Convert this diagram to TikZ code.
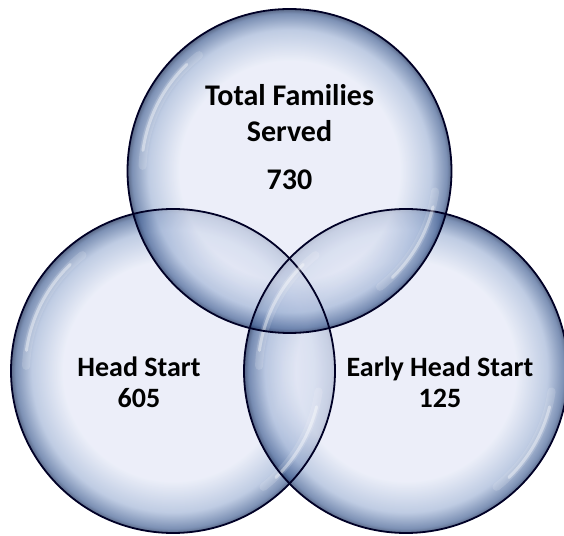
\documentclass[tikz,border=0pt]{standalone}
\usepackage{fontspec}
\setmainfont{Carlito}[BoldFont={Carlito Bold}]
\usetikzlibrary{positioning}
\definecolor{bubin}{HTML}{E4E8F6}
\definecolor{bubmid}{HTML}{A6B8D8}
\definecolor{bubdark}{HTML}{4A6698}
\definecolor{bubrim}{HTML}{1A2E58}
\pgfdeclareradialshading{bubble}{\pgfpoint{0bp}{0bp}}{color(0bp)=(bubin); color(17bp)=(bubin); color(21.8bp)=(bubmid); color(24.3bp)=(bubdark); color(25bp)=(bubrim); color(50bp)=(bubrim)}
\tikzset{
  lbl/.style={font=\bfseries\fontsize{28}{30}\selectfont, anchor=base},
  biglbl/.style={lbl, font=\bfseries\fontsize{30}{32}\selectfont},
  shine/.style={white, line cap=round}
}

\begin{document}
\begin{tikzpicture}[x=1pt,y=1pt]
\useasboundingbox (0,0) rectangle (564,535);
\coordinate (hs) at (173,164);
\coordinate (ehs) at (406,164);
\coordinate (tot) at (289.5,364);
\foreach \c in {hs, ehs, tot} {
               \shade[shading=bubble, fill opacity=0.72] (\c) circle(162);
               }
\foreach \c in {hs, ehs, tot} {
               \draw[shine, line width=8, opacity=0.15] (\c) ++(128:147) arc(128:178:147);
               \draw[shine, line width=3, opacity=0.4] (\c) ++(134:148) arc(134:172:148);
               \draw[shine, line width=8, opacity=0.15] (\c) ++(-52:147) arc(-52:-8:147);
               \draw[shine, line width=3, opacity=0.4] (\c) ++(-46:148) arc(-46:-14:148);
               \draw[line width=1.8, black!85!blue] (\c) circle(162);
               }
\node[biglbl] (tot1) at (289.5,429) {Total Families};
\node[biglbl] (tot2) at (289.5,393) {Served};
\node[biglbl] (tot3) at (289.5,345) {730};
\node[lbl] (hs1) at (139,158) {Head Start};
\node[lbl] (hs2) at (139,127) {605};
\node[lbl] (ehs1) at (440,158) {Early Head Start};
\node[lbl] (ehs2) at (440,127) {125};
\end{tikzpicture}
\end{document}
